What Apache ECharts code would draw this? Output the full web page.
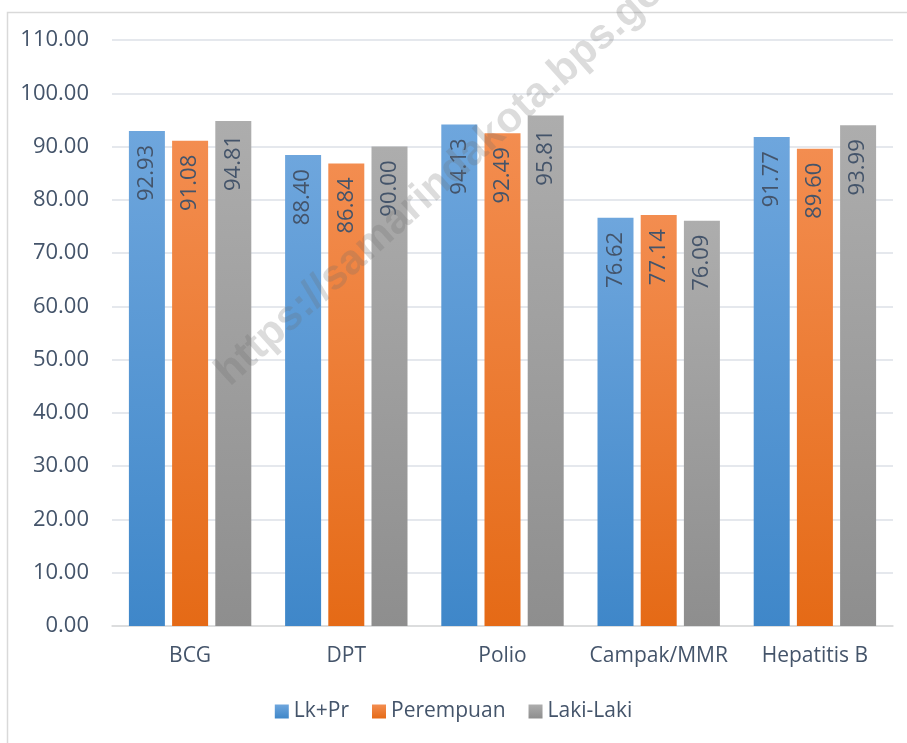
<!DOCTYPE html>
<html><head><meta charset="utf-8">
<script src="https://cdn.jsdelivr.net/npm/echarts@6/dist/echarts.min.js"></script>
<style>html,body{margin:0;padding:0;background:#fff}#c{width:907px;height:743px}</style>
</head><body><div id="c"></div>
<script>
const categories = ['BCG', 'DPT', 'Polio', 'Campak/MMR', 'Hepatitis B'];
const seriesNames = ['Lk+Pr', 'Perempuan', 'Laki-Laki'];
const lkpr = [92.93, 88.40, 94.13, 76.62, 91.77];
const perempuan = [91.08, 86.84, 92.49, 77.14, 89.60];
const lakilaki = [94.81, 90.00, 95.81, 76.09, 93.99];
const watermark = 'https://samarindakota.bps.go.id';

const font = '"Open Sans", "Liberation Sans", sans-serif';
const txt = '#44546a';
function grad(top, bottom) {
  return new echarts.graphic.LinearGradient(0, 0, 0, 1, [
    {offset: 0, color: top}, {offset: 1, color: bottom}]);
}
const colors = [grad('#6ea6dd', '#3f87c9'), grad('#f38d50', '#e56a16'), grad('#adadad', '#8e8e8e')];
const data = [lkpr, perempuan, lakilaki];

const chart = echarts.init(document.getElementById('c'));
chart.setOption({
  animation: false,
  textStyle: {fontFamily: font},
  grid: {left: 112, right: 14, top: 40, bottom: 117},
  legend: {
    bottom: 16, left: 'center', itemWidth: 14, itemHeight: 14, itemGap: 23,
    textStyle: {fontSize: 21, color: txt, fontFamily: font},
    data: seriesNames.map((n, i) => ({name: n, icon: 'rect'}))
  },
  xAxis: {
    type: 'category', data: categories,
    axisLine: {lineStyle: {color: '#d9d9d9', width: 1.5}},
    axisTick: {show: false},
    axisLabel: {fontSize: 21, color: txt, margin: 20, fontFamily: font, interval: 0, hideOverlap: false}
  },
  yAxis: {
    type: 'value', min: 0, max: 110, interval: 10,
    axisLine: {show: false}, axisTick: {show: false},
    splitLine: {lineStyle: {color: '#dde1e7', width: 1.5}},
    axisLabel: {fontSize: 22, color: txt, margin: 23, fontFamily: font,
      formatter: v => v.toFixed(2)}
  },
  graphic: [
    {type: 'rect', left: 5, top: 10, shape: {width: 905, height: 740},
     style: {fill: 'none', stroke: '#d9d9d9', lineWidth: 1.5}, silent: true, z: -10},
    {type: 'text', x: 236, y: 394, rotation: 42 * Math.PI / 180, z: 100, silent: true,
     style: {text: watermark, fontSize: 42, fontWeight: 'bold', fill: 'rgba(110,110,110,0.24)',
       fontFamily: '"Liberation Sans", sans-serif', textVerticalAlign: 'bottom'}}
  ],
  series: seriesNames.map((n, i) => ({
    name: n, type: 'bar', data: data[i], barWidth: 36, barGap: '20%',
    itemStyle: {color: colors[i]},
    label: {show: true, position: 'insideTop', rotate: 90, align: 'right', verticalAlign: 'middle',
      distance: 14, fontSize: 22, color: txt, fontFamily: font, formatter: p => p.value.toFixed(2)}
  }))
});
</script></body></html>
